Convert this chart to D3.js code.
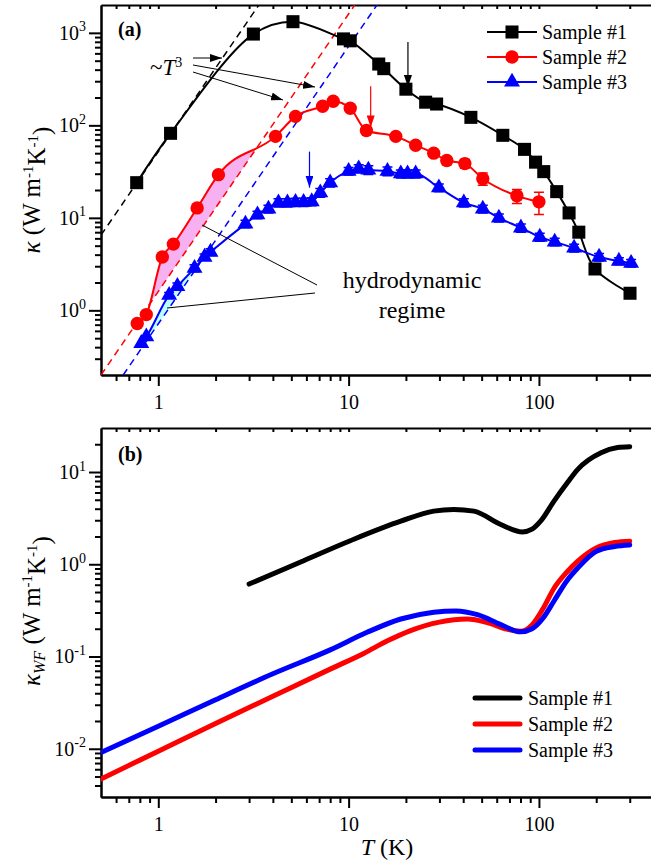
<!DOCTYPE html>
<html lang="en">
<head>
<meta charset="utf-8">
<title>thermal conductivity vs T</title>
<script src="https://cdn.jsdelivr.net/npm/d3@7"></script>
<style>
  body { margin: 0; background: #fff; }
  svg text { font-family: "Liberation Serif", "DejaVu Serif", "Times New Roman", Times, serif !important; fill: #000; }
  .axis path, .axis line { stroke: #000; stroke-width: 2; }
  .axis text { font-size: 20px; }
</style>
</head>
<body>
<script>
// ---- panel (a): measured kappa ----
var s1T = [0.77, 1.16, 3.16, 5.1, 9.4, 10.2, 14.4, 15.3, 20, 25.4, 29, 43.9, 64.6, 84, 96, 106, 124, 144, 162, 197, 301];
var s1K = [24, 82, 970, 1320, 860, 820, 460, 410, 246, 178, 170, 122, 78, 55, 40, 31.6, 19.2, 11.3, 7.0, 2.8, 1.53];

var s2T = [0.775, 0.865, 1.05, 1.2, 1.6, 2.07, 4.13, 5.26, 7.3, 8.3, 10.2, 12.4, 17.7, 22.5, 28, 32.8, 40.8, 50.7, 76.6, 100];
var s2K = [0.72, 0.9, 3.77, 5.2, 12.8, 29.3, 76, 125, 161, 182, 153, 88, 76, 61, 50, 41.7, 38.6, 26.5, 17.3, 14.9];
var s2E = [0, 0, 0, 0, 0, 0, 0, 0, 0, 0, 0, 0, 0, 3, 3, 4, 4, 4, 3, 4];

var s3T = [0.814, 0.865, 1.14, 1.26, 1.55, 1.75, 1.88, 2.87, 3.32, 3.79, 4.28, 4.77, 5.26, 5.8, 6.4, 7.1, 8.0,
           10.0, 11.3, 12.7, 16, 18.8, 20.4, 22.5, 29.8, 40.3, 50.7, 61.6, 80.4, 101, 121, 153, 207, 263, 305];
var s3K = [0.44, 0.52, 1.46, 1.82, 2.86, 3.77, 4.27, 8.6, 10.8, 12.5, 14.6, 14.6, 14.8, 14.8, 15, 18.7, 24,
           32, 34, 33, 32, 30, 30, 30, 21.2, 14.6, 12.5, 10, 7.8, 6.2, 5.5, 4.72, 3.77, 3.41, 3.24];
var s3E = [0, 0, 0.1, 0.15, 0.25, 0.3, 0.35, 0.8, 1, 1.2, 1.5, 1.5, 1.5, 1.5, 1.5, 2, 2.5,
           3, 3.5, 3.5, 3.5, 3, 3, 3, 2, 1.5, 1.2, 1, 0.8, 0.6, 0.5, 0.45, 0.35, 0.3, 0.3];

// ~T^3 guide lines: kappa = c * T^3, starting temperature
var t3Coef = [52, 1.6, 0.715];
var t3Start = [0.5, 0.5, 0.654];

// arrows marking the peak shift: [T, kappa from, kappa to]
var peakArrows = [[20.5, 795, 259], [13.06, 265, 95], [6.23, 52, 21.2]];

// ---- panel (b): Wiedemann-Franz kappa ----
var wf1T = [3, 5.6, 10.2, 18.8, 28, 35.7, 45.5, 63, 82, 92, 102, 120, 140, 160, 212, 259, 300];
var wf1K = [0.61, 1.06, 1.8, 2.93, 3.77, 3.93, 3.77, 2.7, 2.24, 2.4, 2.93, 4.84, 7.5, 10.7, 16.2, 18.4, 18.8];

var wf2T = [0.5, 1, 2, 4, 8, 12, 16, 21, 30, 42, 54, 68, 80, 92, 105, 120, 140, 160, 200, 250, 300];
var wf2K = [0.0047, 0.0094, 0.0188, 0.037, 0.073, 0.108, 0.148, 0.19, 0.236, 0.255, 0.232, 0.198, 0.188, 0.22, 0.33, 0.55, 0.82, 1.08, 1.5, 1.72, 1.78];

var wf3T = [0.5, 1, 2, 4, 8, 12.5, 18.8, 28, 36.6, 47.5, 63, 80, 92, 105, 120, 140, 160, 200, 250, 300];
var wf3K = [0.0091, 0.0175, 0.034, 0.065, 0.118, 0.183, 0.255, 0.302, 0.312, 0.284, 0.222, 0.185, 0.2, 0.26, 0.4, 0.66, 0.91, 1.38, 1.56, 1.62];

var names = ["Sample #1", "Sample #2", "Sample #3"];
var colors = ["#000000", "#ff0000", "#0000ff"];
var serif = "'Liberation Serif', 'DejaVu Serif', 'Times New Roman', Times, serif";

var W = 651, H = 864;
var svg = d3.select("body").append("svg").attr("width", W).attr("height", H)
  .attr("font-family", serif);

var x = d3.scaleLog().domain([0.5, 388]).range([101, 651]);
var yA = d3.scaleLog().domain([0.2, 2000]).range([375, 5]);
var yB = d3.scaleLog().domain([0.003, 30]).range([797, 428]);

function minors(dom, majors) {
  var out = [];
  [0.001, 0.01, 0.1, 1, 10, 100, 1000].forEach(function (d) {
    for (var m = 1; m <= 9; m++) {
      var v = +(m * d).toPrecision(3);
      if (v > dom[0] * 1.0001 && v < dom[1] * 0.9999 && majors.indexOf(v) < 0) out.push(v);
    }
  });
  return out;
}

function supLabels(g) {
  g.selectAll(".tick text").each(function (d) {
    var t = d3.select(this);
    t.text(null);
    t.append("tspan").text("10");
    t.append("tspan").attr("dy", "-0.6em").style("font-size", "14px").text(Math.round(Math.log10(d)));
  });
}

var xMaj = [1, 10, 100];
var xMin = minors(x.domain(), xMaj);

function axisG(tr) {
  return svg.append("g").attr("class", "axis").attr("transform", tr);
}

function drawAxes(y, yMaj, top, bottom) {
  var yMin = minors(y.domain(), yMaj);
  // bottom axis
  axisG("translate(0," + bottom + ")")
    .call(d3.axisBottom(x).tickValues(xMaj).tickSize(11).tickSizeOuter(0).tickPadding(9).tickFormat(d3.format("d")))
    .attr("font-family", serif).attr("font-size", 20);
  axisG("translate(0," + bottom + ")")
    .call(d3.axisBottom(x).tickValues(xMin).tickSize(6).tickSizeOuter(0).tickFormat(""));
  // top frame with small inward ticks
  axisG("translate(0," + top + ")")
    .call(d3.axisTop(x).tickValues(xMaj.concat(xMin)).tickSize(-4).tickSizeOuter(0).tickFormat(""));
  // left axis
  axisG("translate(101,0)")
    .call(d3.axisLeft(y).tickValues(yMaj).tickSize(12).tickSizeOuter(0).tickPadding(3))
    .attr("font-family", serif).attr("font-size", 20)
    .call(supLabels);
  axisG("translate(101,0)")
    .call(d3.axisLeft(y).tickValues(yMin).tickSize(6).tickSizeOuter(0).tickFormat(""));
}

drawAxes(yA, [1, 10, 100, 1000], 5, 375);
drawAxes(yB, [0.01, 0.1, 1, 10], 428, 797);

var defs = svg.append("defs");
defs.append("clipPath").attr("id", "clipA").append("rect").attr("x", 101).attr("y", 5).attr("width", 550).attr("height", 370);
defs.append("clipPath").attr("id", "clipB").append("rect").attr("x", 101).attr("y", 428).attr("width", 550).attr("height", 369);
colors.forEach(function (c, i) {
  defs.append("marker").attr("id", "arr" + i).attr("viewBox", "0 0 12 8")
    .attr("refX", 12).attr("refY", 4).attr("markerWidth", 12).attr("markerHeight", 8)
    .attr("markerUnits", "userSpaceOnUse").attr("orient", "auto")
    .append("path").attr("d", "M0,0L12,4L0,8Z").attr("fill", c);
});

function pts(T, K) { return T.map(function (t, i) { return [t, K[i]]; }); }

// ---------- panel (a) ----------
var gA = svg.append("g").attr("clip-path", "url(#clipA)");
var lineA = d3.line().x(function (d) { return x(d[0]); }).y(function (d) { return yA(d[1]); });

var dataA = [pts(s1T, s1K), pts(s2T, s2K), pts(s3T, s3K)];
var errA = [null, s2E, s3E];

// hydrodynamic shading: below sample line, above its T^3 line
var fills = ["#f7b0f0", "#b8ffff"];
[1, 2].forEach(function (i, k) {
  var cid = "under" + i;
  var under = dataA[i].slice();
  var first = under[0], last = under[under.length - 1];
  var p = d3.line().curve(d3.curveMonotoneX).x(function (d) { return x(d[0]); }).y(function (d) { return yA(d[1]); })(under);
  p += "L" + x(last[0]) + ",375L" + x(first[0]) + ",375Z";
  defs.append("clipPath").attr("id", cid).append("path").attr("d", p);
  var tEnd = Math.cbrt(2000 / t3Coef[i]);
  var poly = [[x(t3Start[i]), yA(t3Coef[i] * Math.pow(t3Start[i], 3))], [x(tEnd), yA(2000)], [101, 5], [101, 375]];
  gA.append("path").attr("d", "M" + poly.join("L") + "Z")
    .attr("fill", fills[k]).attr("clip-path", "url(#" + cid + ")");
});

// T^3 dashed guides
t3Coef.forEach(function (c, i) {
  var tEnd = Math.cbrt(2000 / c);
  gA.append("path").datum([[t3Start[i], c * Math.pow(t3Start[i], 3)], [tEnd, 2000]])
    .attr("d", lineA).attr("fill", "none").attr("stroke", colors[i])
    .attr("stroke-width", 1.5).attr("stroke-dasharray", "7,5");
});

// sample lines
dataA.forEach(function (d, i) {
  gA.append("path").datum(d)
    .attr("d", lineA.curve(i === 0 ? d3.curveCatmullRom.alpha(0.5) : d3.curveMonotoneX))
    .attr("fill", "none").attr("stroke", colors[i]).attr("stroke-width", 2);
});

// error bars
[1, 2].forEach(function (i) {
  var E = errA[i];
  dataA[i].forEach(function (d, j) {
    if (!E[j]) return;
    var y0 = yA(d[1] - E[j]), y1 = yA(d[1] + E[j]), cx = x(d[0]);
    gA.append("path").attr("d", "M" + cx + "," + y0 + "V" + y1 + "M" + (cx - 5) + "," + y0 + "H" + (cx + 5) + "M" + (cx - 5) + "," + y1 + "H" + (cx + 5))
      .attr("stroke", colors[i]).attr("stroke-width", 1.5).attr("fill", "none");
  });
});

var symbols = [d3.symbol(d3.symbolSquare, 170), d3.symbol(d3.symbolCircle, 140), d3.symbol(d3.symbolTriangle, 110)];
dataA.forEach(function (d, i) {
  gA.selectAll(".m" + i).data(d).enter().append("path")
    .attr("transform", function (p) { return "translate(" + x(p[0]) + "," + yA(p[1]) + ")"; })
    .attr("d", symbols[i]).attr("fill", colors[i]);
});

// vertical arrows
peakArrows.forEach(function (a, i) {
  svg.append("line").attr("x1", x(a[0])).attr("x2", x(a[0]))
    .attr("y1", yA(a[1])).attr("y2", yA(a[2]))
    .attr("stroke", colors[i]).attr("stroke-width", 1.2).attr("marker-end", "url(#arr" + i + ")");
});

// ~T^3 label and arrows
var t3 = svg.append("text").attr("x", 150).attr("y", 75).style("font-size", "23px");
t3.append("tspan").text("~");
t3.append("tspan").style("font-style", "italic").text("T");
t3.append("tspan").attr("dy", "-0.55em").style("font-size", "14px").text("3");
[[[193, 58], [222, 58]], [[193, 65], [315, 87]], [[193, 72], [283, 100]]].forEach(function (s) {
  svg.append("line").attr("x1", s[0][0]).attr("y1", s[0][1]).attr("x2", s[1][0]).attr("y2", s[1][1])
    .attr("stroke", "#000").attr("stroke-width", 1).attr("marker-end", "url(#arr0)");
});

// hydrodynamic regime label
svg.append("text").attr("x", 412).attr("y", 288).attr("text-anchor", "middle").style("font-size", "24px").text("hydrodynamic");
svg.append("text").attr("x", 412).attr("y", 318).attr("text-anchor", "middle").style("font-size", "24px").text("regime");
[[[317, 285], [202, 225]], [[315, 293], [167, 308]]].forEach(function (s) {
  svg.append("line").attr("x1", s[0][0]).attr("y1", s[0][1]).attr("x2", s[1][0]).attr("y2", s[1][1])
    .attr("stroke", "#000").attr("stroke-width", 1);
});

// legend (a)
names.forEach(function (n, i) {
  var ly = 32 + i * 25;
  svg.append("line").attr("x1", 487).attr("x2", 537).attr("y1", ly).attr("y2", ly).attr("stroke", colors[i]).attr("stroke-width", 2);
  svg.append("path").attr("transform", "translate(512," + ly + ")").attr("d", symbols[i]).attr("fill", colors[i]);
  svg.append("text").attr("x", 542).attr("y", ly).attr("dy", "0.35em").style("font-size", "20px").text(n);
});

svg.append("text").attr("x", 118).attr("y", 36).style("font-size", "20px").style("font-weight", "bold").text("(a)");

// ---------- panel (b) ----------
var gB = svg.append("g").attr("clip-path", "url(#clipB)");
var lineB = d3.line().curve(d3.curveMonotoneX).x(function (d) { return x(d[0]); }).y(function (d) { return yB(d[1]); });
[pts(wf1T, wf1K), pts(wf2T, wf2K), pts(wf3T, wf3K)].forEach(function (d, i) {
  gB.append("path").datum(d).attr("d", lineB).attr("fill", "none")
    .attr("stroke", colors[i]).attr("stroke-width", 5).attr("stroke-linecap", "round");
});

names.forEach(function (n, i) {
  var ly = 698 + i * 26;
  svg.append("line").attr("x1", 475).attr("x2", 520).attr("y1", ly).attr("y2", ly)
    .attr("stroke", colors[i]).attr("stroke-width", 5).attr("stroke-linecap", "round");
  svg.append("text").attr("x", 528).attr("y", ly).attr("dy", "0.35em").style("font-size", "20px").text(n);
});

svg.append("text").attr("x", 118).attr("y", 461).style("font-size", "20px").style("font-weight", "bold").text("(b)");

// axis titles
var xl = svg.append("text").attr("x", 387).attr("y", 855).attr("text-anchor", "middle").style("font-size", "24px");
xl.append("tspan").style("font-style", "italic").text("T");
xl.append("tspan").text(" (K)");

function yTitle(cx, cy, sub) {
  var t = svg.append("text").attr("transform", "translate(" + cx + "," + cy + ") rotate(-90)")
    .attr("text-anchor", "middle").style("font-size", "25px");
  t.append("tspan").style("font-style", "italic").text("\u03ba");
  if (sub) t.append("tspan").attr("dy", "0.3em").style("font-size", "16px").style("font-style", "italic").text(sub);
  t.append("tspan").attr("dy", sub ? "-0.2em" : 0).text(" (W m");
  t.append("tspan").attr("dy", "-0.5em").style("font-size", "15px").text("-1");
  t.append("tspan").attr("dy", "0.5em").text("K");
  t.append("tspan").attr("dy", "-0.5em").style("font-size", "15px").text("-1");
  t.append("tspan").attr("dy", "0.5em").text(")");
}
yTitle(40, 190, null);
yTitle(40, 611, "WF");
</script>
</body>
</html>
